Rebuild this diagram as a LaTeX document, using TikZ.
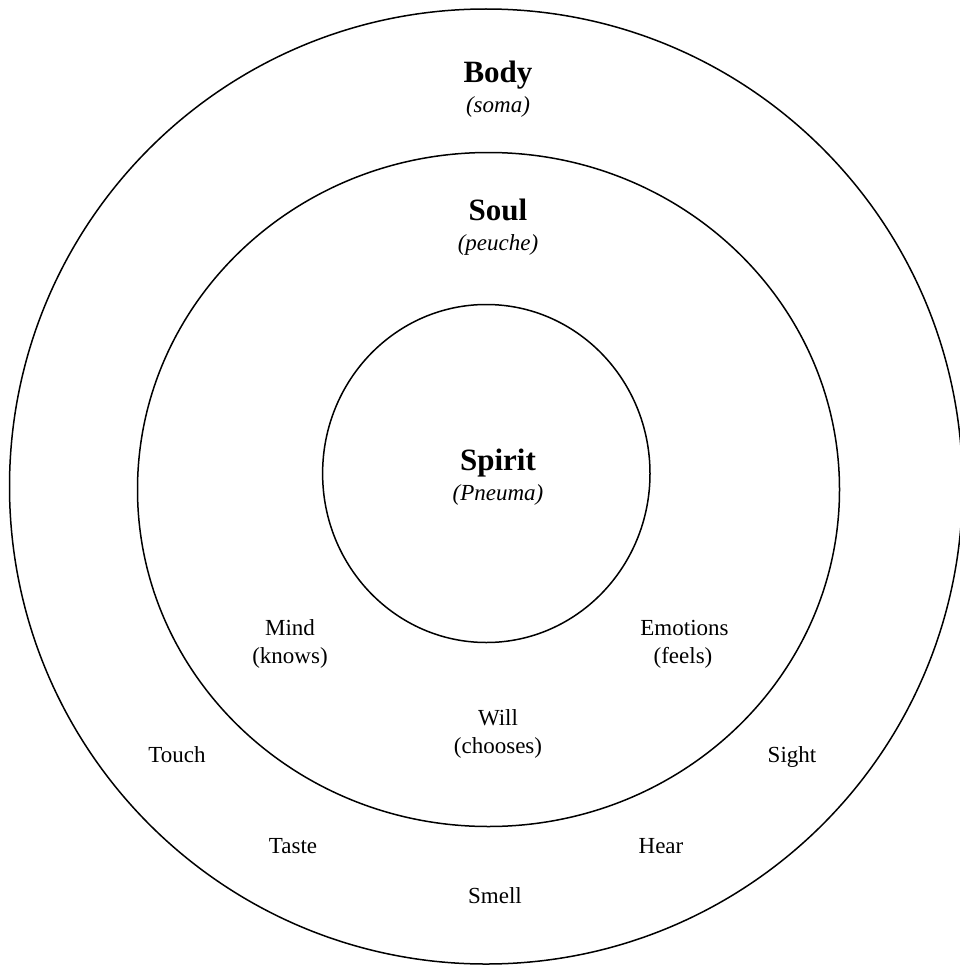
\documentclass[tikz,border=0pt]{standalone}
\usepackage{fontspec}
\setmainfont{Liberation Serif}
\begin{document}
\begin{tikzpicture}[x=1pt,y=-1pt,
  ring/.style={draw=black,line width=1.5pt},
  title/.style={inner sep=0pt,anchor=base,font=\fontsize{31}{36}\selectfont\bfseries},
  sub/.style={inner sep=0pt,anchor=base,font=\fontsize{23}{28}\selectfont\itshape},
  lbl/.style={inner sep=0pt,anchor=base,font=\fontsize{23}{28}\selectfont}]
\useasboundingbox[fill=white] (0,0) rectangle (960,966);
\draw[ring] (486,486.5) ellipse [x radius=476.5, y radius=477.5];
\draw[ring] (488.5,489.5) ellipse [x radius=351, y radius=337];
\draw[ring] (486.3,473.5) ellipse [x radius=163.7, y radius=169];
\node[title] (body) at (498,82) {Body};
\node[sub] (soma) at (498,112) {(soma)};
\node[title] (soul) at (498,220) {Soul};
\node[sub] (peuche) at (498,250) {(peuche)};
\node[title] (spirit) at (498,470) {Spirit};
\node[sub] (pneuma) at (498,500) {(Pneuma)};
\node[lbl] (mind) at (290,635) {Mind};
\node[lbl] (knows) at (290,663) {(knows)};
\node[lbl] (emo) at (684.5,635) {Emotions};
\node[lbl] (feels) at (683,663) {(feels)};
\node[lbl] (will) at (498,725) {Will};
\node[lbl] (chooses) at (498,753) {(chooses)};
\node[lbl] (touch) at (177,762) {Touch};
\node[lbl] (sight) at (792,762) {Sight};
\node[lbl] (taste) at (293,853) {Taste};
\node[lbl] (hear) at (661,853) {Hear};
\node[lbl] (smell) at (495,903) {Smell};
\end{tikzpicture}
\end{document}
